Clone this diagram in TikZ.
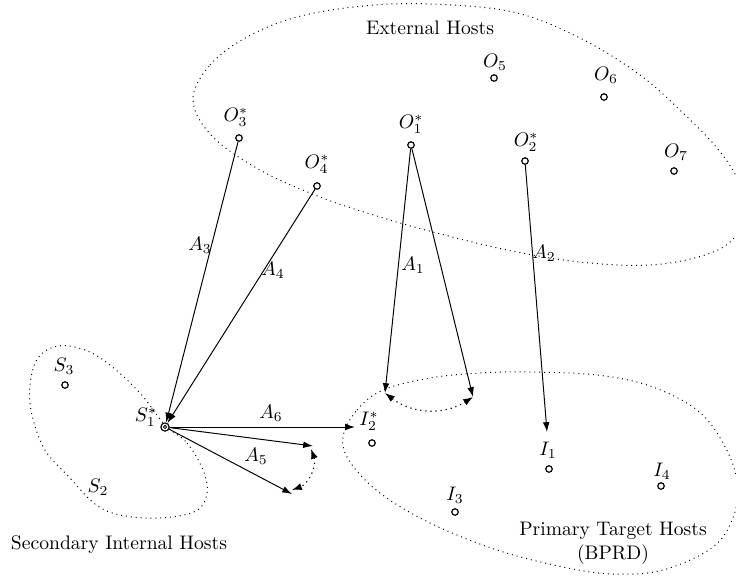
\documentclass[tikz,border=0pt]{standalone}
\usetikzlibrary{arrows.meta}
\begin{document}
\begin{tikzpicture}[x=0.51pt,y=-0.51pt,
  host/.style={circle,draw,line width=0.6pt,inner sep=0pt,minimum size=3.3pt},
  lbl/.style={inner sep=0pt},
  con/.style={line width=0.5pt,-{Latex[length=5pt,width=3.4pt]}},
  swap/.style={dotted,line width=0.6pt,{Latex[length=5pt,width=3.6pt]}-{Latex[length=5pt,width=3.6pt]}},
  region/.style={dotted,line width=0.5pt}]
\clip (0,0) rectangle (736,576);
% regions
\draw[region] plot[smooth cycle,tension=0.6] coordinates {(193,100) (210,65) (247,37) (297,17) (363,6) (430,4) (513,12) (580,38) (640,75) (683,113) (717,148) (738,180) (744,210) (734,238) (705,255) (650,265) (580,262) (507,250) (433,232) (380,217) (320,197) (260,170) (212,136)};
\draw[region] plot[smooth cycle,tension=0.6] coordinates {(343,437) (357,410) (383,390) (430,378) (480,373) (530,372) (597,375) (650,386) (697,410) (723,443) (737,480) (734,515) (713,547) (663,570) (613,574) (563,567) (497,550) (430,523) (380,493) (350,462)};
\draw[region] plot[smooth cycle,tension=0.6] coordinates {(165,425) (187,443) (203,470) (207,493) (196,511) (160,518) (120,515) (95,504) (70,478) (45,450) (32,415) (30,385) (38,358) (58,346) (85,350) (110,365) (140,393)};
% region titles
\node[lbl] (tExt) at (430,28) {External Hosts};
\node[lbl] (tSec) at (119,545) {Secondary Internal Hosts};
\node[lbl,align=center] (tPri) at (613,543) {Primary Target Hosts\\(BPRD)};
% hosts
\node[host] (O3) at (239,138) {};
\node[host] (O4) at (317,186) {};
\node[host] (O1) at (411,145) {};
\node[host] (O2) at (525,161) {};
\node[host] (O5) at (494,78) {};
\node[host] (O6) at (604,97) {};
\node[host] (O7) at (674,171) {};
\node[host] (S3) at (65,385) {};
\node[host] (I2) at (372,443) {};
\node[host] (I1) at (549,469) {};
\node[host] (I4) at (661,486) {};
\node[host] (I3) at (455,512) {};
\node[host,minimum size=4.2pt] (S1) at (165,427) {};
\node[circle,draw,inner sep=0pt,minimum size=1.6pt,line width=0.4pt] (S1c) at (S1) {};
% host labels
\node[lbl] (lO3) at (236,117) {$O_3^*$};
\node[lbl] (lO4) at (317,164) {$O_4^*$};
\node[lbl] (lO1) at (411,124) {$O_1^*$};
\node[lbl] (lO2) at (526,142) {$O_2^*$};
\node[lbl] (lO5) at (495,62) {$O_5$};
\node[lbl] (lO6) at (606,75) {$O_6$};
\node[lbl] (lO7) at (676,152) {$O_7$};
\node[lbl] (lS1) at (146,417) {$S_1^*$};
\node[lbl] (lS3) at (64,366) {$S_3$};
\node[lbl] (lS2) at (98,487) {$S_2$};
\node[lbl] (lI2) at (369,421) {$I_2^*$};
\node[lbl] (lI1) at (548,450) {$I_1$};
\node[lbl] (lI4) at (662,471) {$I_4$};
\node[lbl] (lI3) at (455,495) {$I_3$};
% arrow ends
\coordinate (t1a) at (385,393);
\coordinate (t1b) at (473,397);
\coordinate (t2) at (547,432);
\coordinate (t6) at (355,427);
\coordinate (t5a) at (313,446);
\coordinate (t5b) at (292,494);
\coordinate (d5a) at (311,449);
\coordinate (d5b) at (292,490);
% connectors
\draw[con] (O3) -- (S1);
\draw[con] (O4) -- (S1);
\draw[con] (O1) -- (t1a);
\draw[con] (O1) -- (t1b);
\draw[con] (O2) -- (t2);
\draw[con] (S1) -- (t6);
\draw[con] (S1) -- (t5a);
\draw[con] (S1) -- (t5b);
\draw[swap] (t1a) to[bend right=35] (t1b);
\draw[swap] (d5a) to[bend left=45] (d5b);
% arrow labels
\node[lbl] (A3) at (200,245) {$A_3$};
\node[lbl] (A4) at (273,270) {$A_4$};
\node[lbl] (A1) at (413,265) {$A_1$};
\node[lbl] (A2) at (544,253) {$A_2$};
\node[lbl] (A6) at (271,413) {$A_6$};
\node[lbl] (A5) at (256,456) {$A_5$};
\end{tikzpicture}
\end{document}
